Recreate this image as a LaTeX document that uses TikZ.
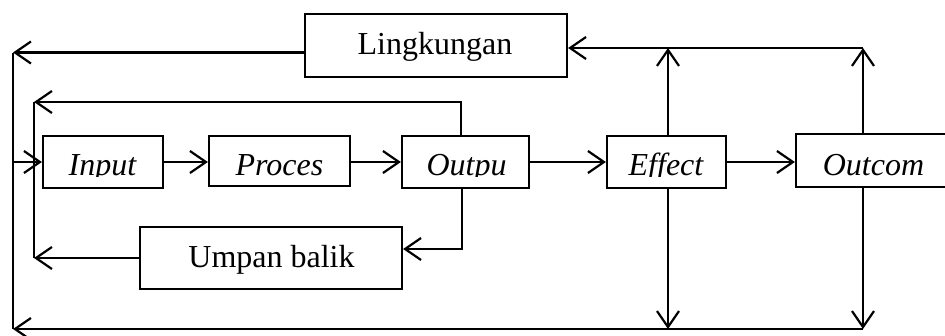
\documentclass[tikz,border=0pt]{standalone}
\usepackage{fontspec}
\setmainfont{Liberation Serif}
\usetikzlibrary{arrows.meta}
\tikzset{
  boxnode/.style={draw, line width=2.2pt, inner sep=0pt, minimum width=#1},
  lbl/.style={inner sep=0pt, anchor=base, font=\fontsize{32}{38}\selectfont},
  ilbl/.style={lbl, font=\fontsize{32}{38}\selectfont\itshape},
  conn/.style={line width=2.2pt, line cap=butt},
  arr/.style={conn, -{Straight Barb[length=16pt,width=22pt,line width=2.2pt]}},
}
\begin{document}
\begin{tikzpicture}[x=1pt,y=-1pt]
\useasboundingbox (0,0) rectangle (945,335);
\clip (0,0) rectangle (945,335);
% boxes
\node[boxnode=262pt, minimum height=63pt] (ling) at (436,45.5) {};
\node[boxnode=120pt, minimum height=52pt] (input) at (103,162) {};
\node[boxnode=141pt, minimum height=50pt] (proc) at (279.5,161) {};
\node[boxnode=127pt, minimum height=52pt] (outp) at (465.5,162) {};
\node[boxnode=119pt, minimum height=52pt] (eff) at (666.5,162) {};
\node[boxnode=160pt, minimum height=53pt] (outc) at (876,160.5) {};
\node[boxnode=262pt, minimum height=62pt] (umpan) at (271,258) {};
% labels
\node[lbl] (lingt) at (435,54) {Lingkungan};
\node[lbl] (umpant) at (271.5,267) {Umpan balik};
\begin{scope}
\clip (0,0) rectangle (945,176.5);
\node[ilbl] (inputt) at (102.5,175) {Input};
\node[ilbl] (proct) at (279.5,175) {Proces};
\node[ilbl] (outpt) at (466.5,175) {Outpu};
\node[ilbl] (efft) at (666,175) {Effect};
\node[ilbl] (outct) at (873.5,175) {Outcom};
\end{scope}
% coordinates
\coordinate (lt) at (13,52.5);
\coordinate (lb) at (13,329);
\coordinate (it) at (34,102);
\coordinate (ib) at (34,258);
\coordinate (et) at (668,48);
\coordinate (eb) at (668,329);
\coordinate (ot) at (863,48);
\coordinate (ob) at (863,329);
% main chain
\draw[arr] (input.east) -- (proc.west |- input.east);
\draw[arr] (proc.east |- outp.west) -- (outp.west);
\draw[arr] (outp.east) -- (eff.west);
\draw[arr] (eff.east) -- (outc.west |- eff.east);
% environment loop
\draw[arr] (ling.west |- lt) -- (lt);
\draw[conn] (lt) -- (lb);
\draw[arr] (13,162) -- (input.west);
\draw[arr] (ob) -- (lb);
\draw[arr] (outc.north -| ot) -- (ot);
\draw[arr] (outc.south -| ob) -- (ob);
\draw[arr] (eff.north -| et) -- (et);
\draw[arr] (eff.south -| eb) -- (eb);
\draw[arr] (ot) -- (ling.east |- ot);
% feedback loop
\draw[arr] (461,136) |- (it);
\draw[conn] (it) -- (ib);
\draw[arr] (462,188) |- (umpan.east |- 0,249);
\draw[arr] (umpan.west) -- (ib);
\end{tikzpicture}
\end{document}
